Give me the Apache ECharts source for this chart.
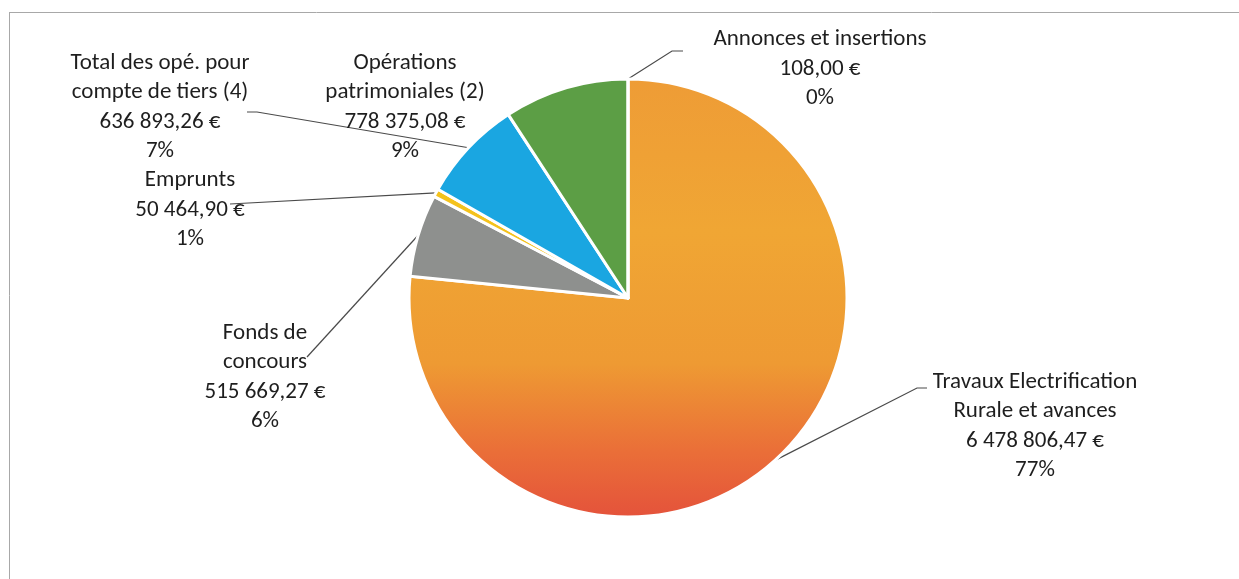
<!DOCTYPE html>
<html>
<head>
<meta charset="utf-8">
<script src="https://cdn.jsdelivr.net/npm/echarts@6/dist/echarts.min.js"></script>
<style>
html,body{margin:0;padding:0;background:#fff;}
#chart{width:1239px;height:579px;}
</style>
</head>
<body>
<div id="chart"></div>
<script>
// Data
const categories = [
  'Travaux Electrification\nRurale et avances',
  'Fonds de\nconcours',
  'Emprunts',
  'Total des opé. pour\ncompte de tiers (4)',
  'Opérations\npatrimoniales (2)',
  'Annonces et insertions'
];
const values = [6478806.47, 515669.27, 50464.90, 636893.26, 778375.08, 108.00];

// Styles / layout
const sliceColors = [
  {type:'linear',x:0,y:0,x2:0,y2:1,colorStops:[
    {offset:0,color:'#EE9C36'},{offset:0.35,color:'#F0A634'},
    {offset:0.65,color:'#EE9A33'},{offset:0.85,color:'#EA6E38'},{offset:1,color:'#E4523B'}]},
  '#8E908E', '#F4C21C', '#1AA6E1', '#5C9E45', '#EE9C36'
];
// label centre positions and leader-line bends (px)
const labelPos = [
  {x:1035, y:426, line:[[917,388],[927,388]]},
  {x:265, y:377, line:[[307,357],[307,357]]},
  {x:190, y:210, line:[[230,204],[230,204]]},
  {x:160, y:107, line:[[257,112],[247,112]]},
  {x:405, y:107, line:null},
  {x:820, y:69, line:[[672,51],[683,51]]}
];

function fmtEuro(v){
  const parts = v.toFixed(2).split('.');
  const int = parts[0].replace(/\B(?=(\d{3})+(?!\d))/g, ' ');
  return int + ',' + parts[1] + ' €';
}

const chart = echarts.init(document.getElementById('chart'));
chart.setOption({
  animation:false,
  backgroundColor:'#fff',
  graphic:[
    {type:'line',shape:{x1:9,y1:12.5,x2:1239,y2:12.5},style:{stroke:'#a8a8a8',lineWidth:1}},
    {type:'line',shape:{x1:9.5,y1:12,x2:9.5,y2:579},style:{stroke:'#a8a8a8',lineWidth:1}}
  ],
  series:[{
    type:'pie',
    center:[628,298],
    radius:219,
    startAngle:90,
    clockwise:true,
    percentPrecision:0,
    avoidLabelOverlap:false,
    itemStyle:{borderColor:'#fff',borderWidth:3},
    label:{
      show:true,
      position:'outside',
      fontFamily:'Carlito, Lato, sans-serif',
      fontSize:23,
      lineHeight:29.5,
      color:'#1e1e1e',
      align:'center',
      formatter:(p)=> p.name + '\n' + fmtEuro(p.value) + '\n' + p.percent + '%'
    },
    labelLine:{show:true,lineStyle:{color:'#4a4a4a',width:1.2}},
    emphasis:{disabled:true},
    labelLayout:function(params){
      const lp = labelPos[params.dataIndex];
      const res = {x:lp.x,y:lp.y,align:'center',verticalAlign:'middle'};
      if(lp.line && params.labelLinePoints){
        const s = params.labelLinePoints[0];
        res.labelLinePoints = [[s[0],s[1]], lp.line[0], lp.line[1]];
      }
      return res;
    },
    data: categories.map((c,i)=>({
      name:c, value:values[i],
      itemStyle:{color:sliceColors[i]},
      labelLine:{show: labelPos[i].line !== null}
    }))
  }]
});
</script>
</body>
</html>
